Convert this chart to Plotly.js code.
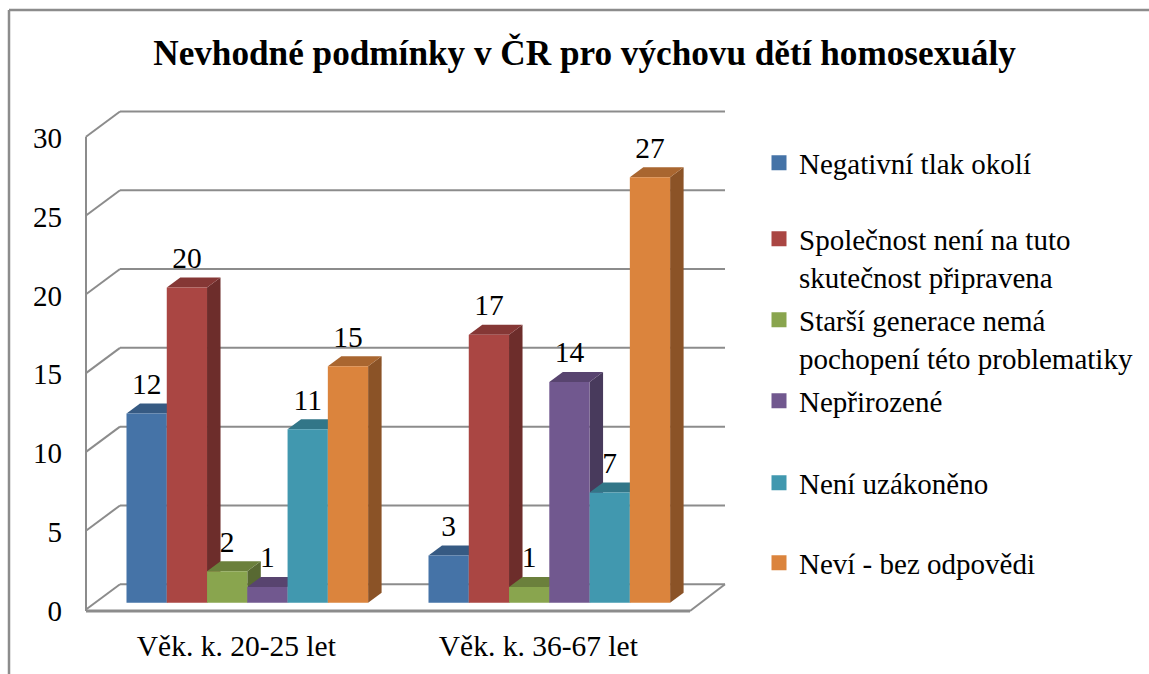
<!DOCTYPE html>
<html><head><meta charset="utf-8">
<script src="https://cdn.plot.ly/plotly-3.0.1.min.js"></script>
<style>html,body{margin:0;padding:0;background:#fff}#c{width:1149px;height:674px}</style>
</head><body><div id="c"></div>
<script>
const chartTitle = 'Nevhodné podmínky v ČR pro výchovu dětí homosexuály';
const categories = ['Věk. k. 20-25 let', 'Věk. k. 36-67 let'];
const seriesNames = ['Negativní tlak okolí', 'Společnost není na tuto<br>skutečnost připravena', 'Starší generace nemá<br>pochopení této problematiky', 'Nepřirozené', 'Není uzákoněno', 'Neví - bez odpovědi'];
const negativni = [12, 3];
const spolecnost = [20, 17];
const starsi = [2, 1];
const neprirozene = [1, 14];
const neuzakoneno = [11, 7];
const nevi = [15, 27];
const yTicks = [0, 5, 10, 15, 20, 25, 30];
const frontColors = ['#4573a7', '#aa4643', '#89a54e', '#71588f', '#4198af', '#db843d'];
const topColors = ['#365a83', '#853735', '#6b803c', '#58446f', '#327688', '#a96630'];
const sideColors = ['#2c4a6b', '#6d2d2b', '#586932', '#483a5c', '#2a6070', '#8b5327'];
const legendCentersPx = [163, 258, 339, 401, 483, 563];

const allSeries = [negativni, spolecnost, starsi, neprirozene, neuzakoneno, nevi];

// plot-area geometry
const L = 70, R = 735, T = 100, B = 620;
const pxPerCat = 302, cat0Px = 247.3, pxPerUnit = 15.76, zeroPx = 602.7;
const xr = [(L - cat0Px) / pxPerCat, (R - cat0Px) / pxPerCat];
const yr = [(zeroPx - B) / pxPerUnit, (zeroPx - T) / pxPerUnit];
const xd = px => (px - cat0Px) / pxPerCat;
const yd = px => (zeroPx - px) / pxPerUnit;
const px = v => (v - L) / (R - L);
const py = v => (B - v) / (B - T);

const barW = 0.8 / 6;
const depthX = 13.5 / pxPerCat, depthY = 10 / pxPerUnit;
const wallFront = xd(86), wallBack = xd(120), floorFrontR = xd(690), floorBackR = xd(725);
const frontOff = -0.43, backOff = 1.17;
const GRID = '#8c8c8c';

const shapes = [];
const line = (x0, y0, x1, y1, w) => shapes.push({type: 'line', layer: 'below', xref: 'x', yref: 'y', x0, y0, x1, y1, line: {color: GRID, width: w || 2}});

// walls and grid
line(wallFront, yTicks[yTicks.length - 1] + frontOff, wallFront, yd(611));
yTicks.forEach(t => {
  line(wallFront, t + frontOff, wallBack, t + backOff);
  line(wallBack, t + backOff, floorBackR, t + backOff);
});
line(wallFront, yd(611), floorFrontR, yd(611), 3);
line(floorFrontR, yd(611), floorBackR, yTicks[0] + backOff);

// 3-D faces of the bars
const path = p => 'M' + p.map(q => q[0] + ',' + q[1]).join('L') + 'Z';
allSeries.forEach((vals, i) => {
  vals.forEach((v, c) => {
    const x0 = c + (i - 3) * barW, x1 = x0 + barW;
    shapes.push({type: 'path', layer: 'below', xref: 'x', yref: 'y', line: {width: 0}, fillcolor: sideColors[i],
      path: path([[x1, 0], [x1 + depthX, depthY], [x1 + depthX, v + depthY], [x1, v]])});
    shapes.push({type: 'path', layer: 'below', xref: 'x', yref: 'y', line: {width: 0}, fillcolor: topColors[i],
      path: path([[x0, v], [x0 + depthX, v + depthY], [x1 + depthX, v + depthY], [x1, v]])});
  });
});

// chart frame
[[9, 10, 1149, 10], [9, 10, 9, 674]].forEach(f => shapes.push({type: 'line', xref: 'paper', yref: 'paper',
  x0: px(f[0]), y0: py(f[1]), x1: px(f[2]), y1: py(f[3]), line: {color: '#8c8c8c', width: 2.5}}));

const traces = [];
allSeries.forEach((vals, i) => {
  traces.push({type: 'bar', x: [0, 1], y: vals, marker: {color: frontColors[i], line: {width: 0}}, showlegend: false, hoverinfo: 'y'});
});
allSeries.forEach((vals, i) => {
  traces.push({type: 'scatter', mode: 'text', x: [0, 1].map(c => c + (i - 2.5) * barW), y: vals.map(v => v + 27 / pxPerUnit),
    text: vals.map(String), textposition: 'middle center', textfont: {family: 'Liberation Serif', size: 29.5, color: '#000'},
    showlegend: false, hoverinfo: 'skip'});
});
allSeries.forEach((vals, i) => {
  traces.push({type: 'scatter', mode: 'markers', x: [null], y: [null], name: seriesNames[i],
    marker: {symbol: 'square', size: 15, color: frontColors[i]}, legend: i === 0 ? 'legend' : 'legend' + (i + 1), showlegend: true});
});

const layout = {
  width: 1149, height: 674, paper_bgcolor: '#fff', plot_bgcolor: 'rgba(0,0,0,0)',
  margin: {l: L, r: 1149 - R, t: T, b: 674 - B, pad: 0, autoexpand: false},
  font: {family: 'Liberation Serif', color: '#000'},
  title: {text: '<b>' + chartTitle + '</b>', x: 584.5 / 1149, xanchor: 'center', xref: 'container', y: 1 - 53 / 674, yanchor: 'middle', yref: 'container',
    font: {family: 'Liberation Serif', size: 35.2, color: '#000'}},
  barmode: 'group', bargap: 0.2, bargroupgap: 0,
  xaxis: {range: xr, tickmode: 'array', tickvals: [0, 1], ticktext: categories, showgrid: false, zeroline: false, showline: false, ticks: '',
    ticklabelshift: -11, ticklabelstandoff: 5, tickfont: {family: 'Liberation Serif', size: 29.5, color: '#000'}, fixedrange: true},
  yaxis: {range: yr, tickmode: 'array', tickvals: yTicks, showgrid: false, zeroline: false, showline: false, ticks: '',
    ticklabelshift: 8, ticklabelstandoff: 7, tickfont: {family: 'Liberation Serif', size: 29, color: '#000'}, fixedrange: true},
  shapes: shapes
};
legendCentersPx.forEach((c, i) => {
  layout[i === 0 ? 'legend' : 'legend' + (i + 1)] = {x: px(759), xanchor: 'left', y: py(c), yanchor: 'middle', valign: 'top', bgcolor: 'rgba(0,0,0,0)',
    borderwidth: 0, font: {family: 'Liberation Serif', size: 29, color: '#000'}};
});
Plotly.newPlot('c', traces, layout, {displayModeBar: false, staticPlot: true});
</script></body></html>
